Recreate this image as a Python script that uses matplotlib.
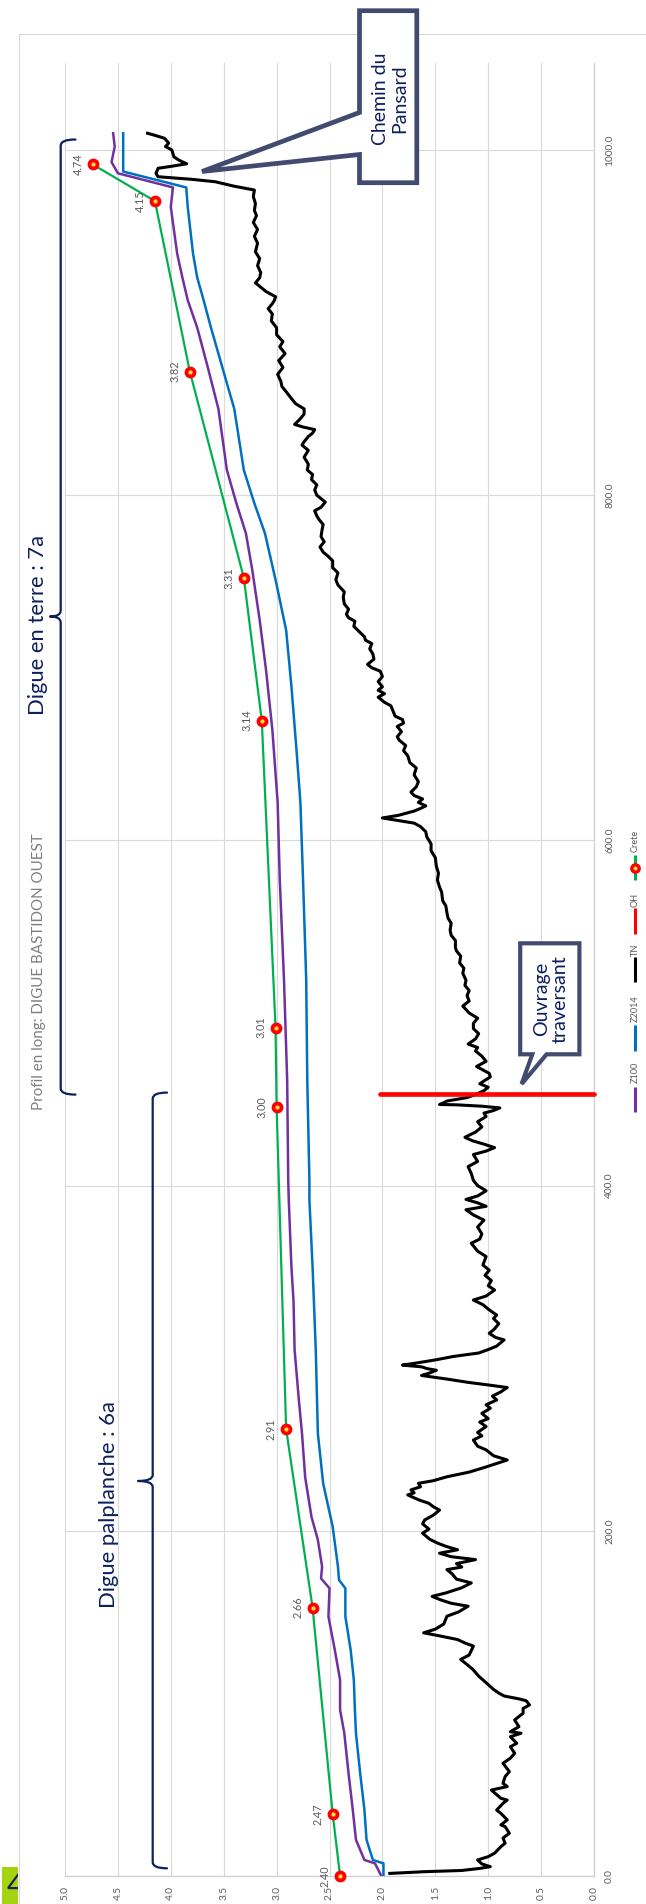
import matplotlib
matplotlib.use("Agg")
import matplotlib.pyplot as plt
import numpy as np
from matplotlib.patches import Polygon, Rectangle, PathPatch
from matplotlib.path import Path
from matplotlib.transforms import Bbox

plt.rcParams['font.family'] = ['Lato', 'DejaVu Sans']

# ---------------- data ----------------
crete_d = [0, 36, 155.5, 259, 445.7, 491.5, 669.4, 752.2, 871.6, 970.4, 991.7]
crete_z = [2.40, 2.47, 2.66, 2.91, 3.00, 3.01, 3.14, 3.31, 3.82, 4.15, 4.74]

z2014_d = [0, 7.3, 9.3, 21, 38.3, 59.5, 82.7, 96.3, 113.6, 131, 150.3, 166.7, 171.5,
           179.2, 202.4, 227.5, 256.5, 305, 353, 391.7, 403, 461, 519, 577, 621.9,
           650.8, 689.4, 721.9, 751, 777.9, 795.3, 814.6, 850, 867, 882, 897, 913,
           926, 940, 967, 978.3, 987.5, 1009.7]
z2014_z = [1.99, 1.99, 2.09, 2.15, 2.17, 2.21, 2.25, 2.26, 2.27, 2.30, 2.35, 2.35, 2.41,
           2.42, 2.47, 2.56, 2.61, 2.63, 2.66, 2.69, 2.69, 2.71, 2.72, 2.75, 2.775,
           2.81, 2.86, 2.91, 3.01, 3.11, 3.21, 3.31, 3.40, 3.48, 3.55, 3.62, 3.69,
           3.75, 3.79, 3.84, 3.854, 4.45, 4.45]

z100_d = [0, 7.3, 9.3, 21, 38.3, 59.5, 82.7, 96.3, 113.6, 131, 150.3, 166.7, 172.4,
          179.2, 194.7, 208, 231, 256.5, 276, 305, 333, 353, 391.7, 403, 461, 519,
          577, 621.9, 664, 698.8, 727.7, 756.7, 777.9, 795.3, 814.6, 850, 874, 897,
          913, 926, 940, 967, 978.3, 986.5, 993, 1002, 1009.7]
z100_z = [2.01, 2.07, 2.17, 2.25, 2.28, 2.32, 2.36, 2.40, 2.40, 2.45, 2.51, 2.50, 2.58,
          2.57, 2.61, 2.67, 2.73, 2.76, 2.79, 2.83, 2.84, 2.86, 2.885, 2.89, 2.90, 2.93,
          2.97, 2.99, 3.04, 3.10, 3.16, 3.23, 3.29, 3.38, 3.47, 3.55, 3.65, 3.75,
          3.84, 3.89, 3.94, 4.00, 3.98, 4.50, 4.56, 4.53, 4.545]

tn_points = [
    (1.5, 1.93), (2.5, 1.60), (3.2, 1.25), (4.4, 1.08), (5.4, 0.98), (7.0, 1.06), (9.3, 1.10),
    (11.2, 1.00), (13.2, 0.94), (17.0, 0.88), (19.0, 0.84), (22, 0.86), (24.8, 0.80),
    (28.6, 0.84), (29.6, 0.88), (32.5, 0.82), (36.3, 0.88), (38.2, 0.92), (42.1, 0.86),
    (44.0, 0.82), (45.0, 0.88), (49.8, 0.97), (51.8, 0.82), (53.7, 0.86), (57.6, 0.84),
    (60.5, 0.80), (65.3, 0.86), (68.3, 0.79), (71.1, 0.75), (74.9, 0.79), (76.9, 0.73),
    (80.7, 0.79), (82.7, 0.69), (83.6, 0.79), (86.5, 0.71), (90.4, 0.75), (94.3, 0.67),
    (97.1, 0.67), (99.1, 0.61), (101.5, 0.64), (102.5, 0.70), (104.3, 0.85), (106, 0.90),
    (108.1, 0.95), (112, 1.02), (115.8, 1.09), (120, 1.15), (125.5, 1.26), (128, 1.18),
    (133.2, 1.14), (135, 1.22), (137, 1.29), (139, 1.45), (140.9, 1.61), (143, 1.50),
    (146, 1.42), (150.5, 1.39), (153, 1.28), (156.3, 1.19), (158, 1.35), (160, 1.45),
    (162, 1.53), (164, 1.40), (167, 1.25), (169.8, 1.16), (172, 1.30), (175, 1.34),
    (177.5, 1.39), (179, 1.25), (181, 1.30), (183.3, 1.12), (185, 1.35), (187, 1.46),
    (189, 1.29), (191, 1.40), (192.9, 1.48), (195, 1.55), (198.6, 1.62), (201, 1.56),
    (204, 1.62), (206.3, 1.60), (209, 1.52), (212, 1.46), (214, 1.52), (215.9, 1.56),
    (218, 1.66), (220.8, 1.76), (222, 1.70), (223.7, 1.73), (225.5, 1.64), (227.5, 1.66),
    (229, 1.52), (231.3, 1.39), (234, 1.18), (237, 1.02), (239, 0.92), (241, 0.82),
    (243.5, 0.95), (246.9, 1.02), (249, 1.10), (252.6, 1.14), (255, 1.06), (257, 1.10),
    (260.4, 1.02), (263, 1.08), (265, 1.00), (268, 1.06), (271, 0.98), (273, 1.02),
    (275.8, 0.92), (278, 0.96), (280.5, 0.88), (283, 0.82), (284.5, 1.00), (286, 1.19),
    (288, 1.40), (290, 1.63), (291.5, 1.55), (293, 1.49), (294, 1.58), (295, 1.63),
    (296, 1.81), (297, 1.70), (299, 1.50), (301, 1.33), (303, 1.09), (305, 1.00),
    (307, 0.92), (310.6, 0.85), (312, 0.93), (314.4, 0.99), (317, 0.94), (320, 0.90),
    (323, 0.95), (325, 0.92), (328, 0.99), (331, 1.05), (333.7, 1.14), (336, 1.02),
    (339.5, 0.94), (342, 1.00), (345, 0.97), (348, 1.03), (351, 0.99), (354, 1.05),
    (358.9, 1.02), (362, 1.10), (366.6, 1.16), (369, 1.08), (372, 1.06), (376, 1.10),
    (380, 1.04), (383, 1.14), (386, 1.21), (388, 1.02), (390, 1.10), (392, 1.21),
    (394, 1.10), (397, 1.02), (400, 1.10), (403, 1.14), (407, 1.16), (411, 1.19),
    (414, 1.10), (418, 1.14), (420, 1.02), (422, 0.94), (424, 1.04), (426, 1.15),
    (428, 1.22), (431, 1.12), (434, 1.06), (437, 1.10), (440, 1.02), (442, 1.04),
    (443.5, 0.95), (445, 0.89), (446, 1.06), (446.8, 1.30), (447, 1.46), (448, 1.42),
    (449, 1.39), (451, 1.20), (453, 1.11), (455, 1.04), (457, 1.00), (459, 1.08),
    (461, 1.03), (463, 0.98), (465, 0.99), (467, 1.05), (469, 1.11), (472, 1.02),
    (475, 1.06), (478, 1.12), (480, 1.10), (482, 1.19), (485, 1.12), (488, 1.09),
    (491, 1.14), (494, 1.14), (497, 1.10), (500, 1.18), (504, 1.24), (507, 1.18),
    (510, 1.20), (513, 1.18), (516, 1.22), (519, 1.21), (523, 1.24), (526, 1.23),
    (529, 1.27), (533, 1.26), (536, 1.30), (538, 1.31), (542, 1.31), (545, 1.35),
    (548, 1.36), (552, 1.35), (555, 1.38), (558, 1.39), (562, 1.40), (565, 1.43),
    (570, 1.44), (573, 1.46), (577, 1.48), (581, 1.47), (585, 1.49), (590, 1.50),
    (594, 1.54), (598, 1.54), (602, 1.58), (605, 1.59), (608, 1.64), (610, 1.70),
    (611.5, 1.85), (613, 2.00), (614.5, 1.85), (617, 1.70), (618.5, 1.64), (620, 1.59),
    (622, 1.66), (624, 1.62), (626, 1.70), (628, 1.73), (631, 1.68), (634, 1.66),
    (638, 1.70), (642, 1.68), (645, 1.74), (649, 1.76), (652, 1.80), (655, 1.78),
    (658, 1.84), (660, 1.86), (663, 1.82), (666, 1.86), (668, 1.80), (670, 1.81),
    (672, 1.88), (675, 1.90), (678, 1.92), (680, 1.98), (683, 2.04), (685, 1.98),
    (687, 2.04), (689, 2.00), (692, 2.04), (695, 2.00), (698, 2.02), (700, 2.10),
    (702, 2.14), (705, 2.08), (708, 2.09), (711, 2.12), (714, 2.10), (716, 2.16),
    (718, 2.17), (721, 2.22), (724, 2.27), (727, 2.26), (729, 2.32), (731, 2.34),
    (734, 2.32), (737, 2.36), (741, 2.37), (744, 2.36), (748, 2.42), (751, 2.44),
    (755, 2.42), (758, 2.47), (762, 2.47), (765, 2.52), (767, 2.56), (770, 2.59),
    (773, 2.55), (776, 2.58), (780, 2.57), (783, 2.56), (786, 2.60), (788, 2.62),
    (791, 2.64), (793, 2.58), (796, 2.54), (800, 2.62), (803, 2.64), (806, 2.62),
    (809, 2.67), (812, 2.66), (814.6, 2.71), (818, 2.70), (822, 2.74), (826, 2.70),
    (829, 2.76), (831, 2.74), (834, 2.70), (836, 2.66), (838, 2.64), (839.5, 2.75),
    (841, 2.83), (844, 2.78), (847, 2.74), (850, 2.74), (853, 2.82), (856, 2.86),
    (860, 2.91), (863, 2.95), (866, 2.96), (870, 2.99), (874, 2.94), (878, 2.98),
    (882, 2.92), (886, 2.97), (889, 2.94), (893, 3.00), (897, 3.00), (901, 3.05),
    (905, 3.04), (908, 3.08), (911, 3.04), (913, 3.02), (915, 3.01), (918, 3.10),
    (921, 3.16), (923, 3.20), (926, 3.16), (929, 3.15), (933, 3.18), (937, 3.16),
    (941, 3.20), (946, 3.18), (950, 3.21), (954, 3.18), (958, 3.22), (962, 3.19),
    (965, 3.21), (969, 3.20), (973, 3.22), (976.8, 3.21), (979, 3.40), (981.6, 3.58),
    (983, 3.80), (984.5, 4.12), (986.5, 4.14), (989.4, 4.12), (990.5, 4.00), (992, 3.85),
    (994, 3.92), (996, 3.97), (1000, 3.99), (1002, 4.05), (1004, 4.02), (1006.8, 4.06),
    (1008.5, 4.15), (1009.7, 4.22),
]
tn_d = [p[0] for p in tn_points]
tn_z = [p[1] for p in tn_points]

oh_d = [453, 453]
oh_z = [0.0, 2.02]

elev_ticks = [0.0, 0.5, 1.0, 1.5, 2.0, 2.5, 3.0, 3.5, 4.0, 4.5, 5.0]
dist_ticks = [0, 200, 400, 600, 800, 1000]
legend_names = ["Z100", "Z2014", "TN", "OH", "Crete"]

# ---------------- figure ----------------
W, H = 646, 1904
fig = plt.figure(figsize=(W / 100, H / 100), dpi=100)
fig.patch.set_facecolor("white")

ax = fig.add_axes([65 / W, 28 / H, (594 - 65) / W, (1876 - 63) / H])
ax.set_xlim(5, 0)
ax.set_ylim(0, 1050.4)
ax.set_facecolor("none")

GRID = "#D9D9D9"
TXT = "#595959"
NAVY = "#0D1F5C"
BOXC = "#414B6F"

ax.set_xticks(elev_ticks)
ax.set_xticklabels([f"{v:.1f}" for v in elev_ticks], rotation=90, color=TXT, fontsize=7.3)
ax.set_yticks(dist_ticks)
ax.yaxis.tick_right()
ax.set_yticklabels([f"{v:.1f}" for v in dist_ticks], rotation=90, va="center",
                   color=TXT, fontsize=7.3)
ax.tick_params(axis="x", length=0, pad=7)
ax.tick_params(axis="y", length=0, pad=8)
ax.grid(True, color=GRID, lw=0.8)
ax.set_axisbelow(True)
for s in ["left", "top"]:
    ax.spines[s].set_visible(False)
for s in ["bottom", "right"]:
    ax.spines[s].set_color("#D0D0D0")
    ax.spines[s].set_linewidth(0.9)

col = {"Z100": "#7030A0", "Z2014": "#0070C0", "TN": "#000000", "OH": "#FF0000", "Crete": "#00B050"}

ax.plot(z100_z, z100_d, color=col["Z100"], lw=1.8, solid_joinstyle="round", zorder=3)
ax.plot(z2014_z, z2014_d, color=col["Z2014"], lw=1.8, solid_joinstyle="round", zorder=4)
ax.plot(tn_z, tn_d, color=col["TN"], lw=2.2, solid_joinstyle="round", zorder=5)
ax.plot(oh_z, oh_d, color=col["OH"], lw=1.2, zorder=6, clip_on=False)
ax.plot(oh_z, oh_d, color=col["OH"], lw=3.4, zorder=6, clip_on=False,
        solid_capstyle="round", alpha=0.95)
ax.plot(crete_z, crete_d, color=col["Crete"], lw=1.6, zorder=7, clip_on=False,
        marker="o", ms=5.8, mfc="#FFE040", mec="#FF0000", mew=2.7)
for d, z in zip(crete_d, crete_z):
    ax.annotate(f"{z:.2f}", (z, d), xytext=(-10.5, 0), textcoords="offset points",
                rotation=90, ha="center", va="center", fontsize=7.8, color=TXT,
                zorder=8, annotation_clip=False)

# ---------------- overlay (pixel coordinates) ----------------
ov = fig.add_axes([0, 0, 1, 1], zorder=10)
ov.set_xlim(0, W)
ov.set_ylim(H, 0)
ov.axis("off")
ov.patch.set_alpha(0)

renderer = fig.canvas.get_renderer()


def fit_text(x, y, s, length, **kw):
    t = ov.text(x, y, s, fontsize=10, rotation=90, ha="center", va="center", **kw)
    bb = t.get_window_extent(renderer=renderer)
    t.set_fontsize(10 * length / bb.height)
    return t


# outer frame
ov.add_patch(Rectangle((18.5, 34), 800, 2000, fill=False, ec=GRID, lw=0.8, zorder=0))

# green page tab
ov.add_patch(Rectangle((2, 1867), 16, 40, fc="#A4D30F", ec="none", zorder=1))
t4 = ov.text(7, 1886, "4", fontsize=22, color="#1A2350", ha="left", va="center", zorder=2)
t4.set_clip_on(True)
t4.set_clip_box(Bbox.from_extents(2, 0, 18, 37))

# title
fit_text(39.5, 972, "Profil en long: DIGUE BASTIDON OUEST", 274, color="#7F7F7F")


# braces
def brace(xl, ytop, ybot, ymid, xhook, xtip):
    r = 6
    verts = [(xhook, ytop), (xl, ytop), (xl, ytop + r),
             (xl, ymid - r), (xl, ymid), (xtip, ymid),
             (xl, ymid), (xl, ymid + r),
             (xl, ybot - r), (xl, ybot), (xhook, ybot)]
    codes = [Path.MOVETO, Path.CURVE3, Path.CURVE3,
             Path.LINETO, Path.CURVE3, Path.CURVE3,
             Path.CURVE3, Path.CURVE3,
             Path.LINETO, Path.CURVE3, Path.CURVE3]
    ov.add_patch(PathPatch(Path(verts, codes), fill=False, ec=NAVY, lw=1.6,
                           capstyle="round", joinstyle="round"))


brace(60.7, 139.5, 1094.6, 616.5, 75.5, 50)
brace(152.7, 1092.6, 1868.3, 1481, 167, 138)

fit_text(38, 624.6, "Digue en terre : 7a", 180, color=NAVY)
fit_text(109, 1505, "Digue palplanche : 6a", 207, color=NAVY)

# callouts
chemin = [(359.5, 10.7), (416.8, 10.7), (416.8, 182.7), (359.5, 182.7),
          (359.5, 154.5), (202, 171.5), (359.5, 112.5)]
ov.add_patch(Polygon(chemin, closed=True, fc="white", ec=BOXC, lw=3.4, joinstyle="miter"))
fit_text(390.5, 98.3, "Chemin du\nPansard", 93, color=NAVY, linespacing=1.15)

ouvrage = [(520.2, 943.3), (579.4, 943.3), (579.4, 1054.3), (546.6, 1054.3),
           (521.6, 1084), (532.3, 1054.3), (520.2, 1054.3)]
ov.add_patch(Polygon(ouvrage, closed=True, fc="white", ec=BOXC, lw=3.0, joinstyle="miter"))
fit_text(551, 999, "Ouvrage\ntraversant", 88, color=NAVY, linespacing=1.15)

# legend
leg_lines = {"Z100": (1087, 1112), "Z2014": (1025, 1051), "TN": (957, 982),
             "OH": (908, 934), "Crete": (855, 880)}
leg_text = {"Z100": 1072, "Z2014": 1009, "TN": 950, "OH": 900, "Crete": 840.5}
LX = 635
for name in legend_names:
    y0, y1 = leg_lines[name]
    ov.plot([LX, LX], [y0, y1], color=col[name], lw=2.2, solid_capstyle="butt")
    if name == "Crete":
        ov.plot([LX], [(y0 + y1) / 2], marker="o", ms=5.3, mfc="#FFE040", mec="#FF0000",
                mew=2.4)
    ov.text(LX + 0.5, leg_text[name], name, rotation=90, ha="center", va="center",
            fontsize=6.6, color=TXT)

fig.savefig("out.png", dpi=100, facecolor="white")
